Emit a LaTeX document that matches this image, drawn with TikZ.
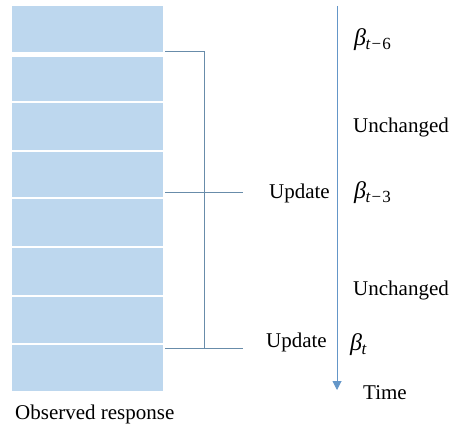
\documentclass[tikz,border=0pt]{standalone}
\usepackage{fontspec}
\setmainfont{Liberation Serif}
\usetikzlibrary{arrows.meta}
\definecolor{cellblue}{RGB}{189,215,238}
\definecolor{brack}{RGB}{104,140,170}
\definecolor{arrowblue}{RGB}{100,150,200}
\newcommand{\betasub}[1]{{\fontsize{24}{26}\selectfont\textit{β}}\kern-0.5pt\raisebox{-0.35ex}{\fontsize{17}{17}\selectfont #1}}
\newcommand{\tminus}[1]{\textit{t}\kern1pt−\kern1pt#1}
\tikzset{
  cell/.style={fill=cellblue, draw=none},
  lbl/.style={inner sep=0pt, font=\fontsize{21}{25}\selectfont, text=black},
  brline/.style={draw=brack, line width=1pt},
}
\begin{document}
\begin{tikzpicture}[x=1pt,y=-1pt]
\useasboundingbox (0,0) rectangle (454,430);
% cells
\fill[cellblue] (12,6) rectangle (163,52);
\fill[cellblue] (12,57) rectangle (163,391);
\foreach \yy in {102,151,198,247,296,344}
  \draw[white, line width=1.5pt] (12,\yy) -- (163,\yy);
% bracket
\coordinate (tl) at (165,52);
\coordinate (tr) at (204,52);
\coordinate (ml) at (165,192);
\coordinate (mm) at (204,192);
\coordinate (mr) at (243,192);
\coordinate (bl) at (165,348);
\coordinate (bm) at (204,348);
\coordinate (br) at (243,348);
\draw[brline] (tl) -- (tr) -- (bm);
\draw[brline] (ml) -- (mr);
\draw[brline] (bl) -- (br);
% time arrow
\coordinate (as) at (337,6);
\coordinate (ae) at (337,390);
\draw[arrowblue, line width=1pt, -{Triangle[length=9pt,width=9pt]}] (as) -- (ae);
% labels
\node[lbl, anchor=west] (b6) at (354,40) {\betasub{\tminus{6}}};
\node[lbl, anchor=west] (u1) at (353,127) {Unchanged};
\node[lbl, anchor=east] (up1) at (330,193) {Update};
\node[lbl, anchor=west] (b3) at (354,193) {\betasub{\tminus{3}}};
\node[lbl, anchor=west] (u2) at (353,290) {Unchanged};
\node[lbl, anchor=east] (up2) at (327,342) {Update};
\node[lbl, anchor=west] (b0) at (350,345) {\betasub{\textit{t}}};
\node[lbl, anchor=west] (tm) at (363,393) {Time};
\node[lbl, anchor=west] (obs) at (15,414) {Observed response};
\end{tikzpicture}
\end{document}
